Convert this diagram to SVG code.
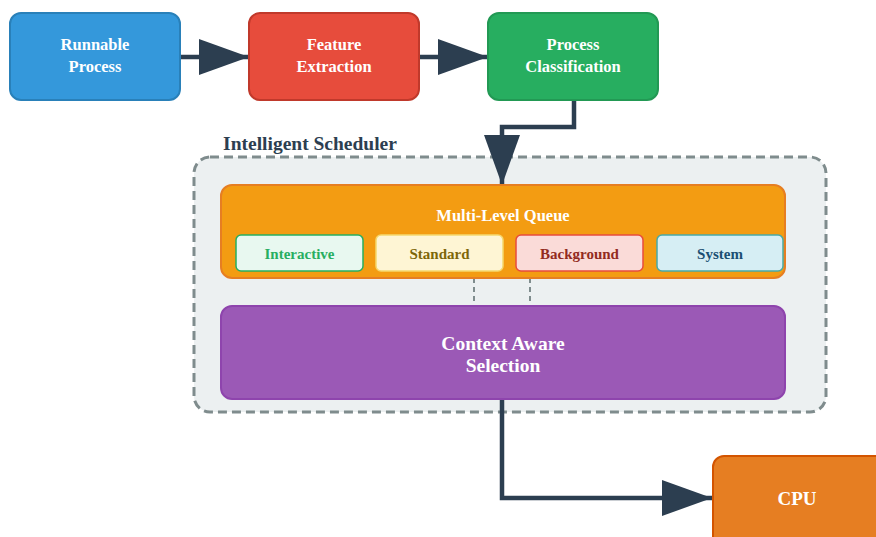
<svg xmlns="http://www.w3.org/2000/svg" width="876" height="537" viewBox="0 0 876 537">
<defs>
<style>
text{font-family:"Liberation Serif","Times New Roman",serif;font-weight:bold;text-anchor:middle}
.lbl{fill:#fff;font-size:16.5px}
.conn{fill:none;stroke:#2c3e50;stroke-width:4.5}
.sub{stroke-width:1.5}
.subt{font-size:15px}
</style>
<marker id="ah" viewBox="0 0 50 36" refX="50" refY="18" markerWidth="50" markerHeight="36" markerUnits="userSpaceOnUse" orient="auto">
<path d="M0,0 L50,18 L0,36 Z" fill="#2c3e50"/>
</marker>
</defs>
<rect width="876" height="537" fill="#fff"/>

<g id="scheduler">
<rect x="194" y="157" width="632" height="255" rx="16" fill="#ecf0f1" stroke="#7f8c8d" stroke-width="3" stroke-dasharray="9,5"/>
<text x="310" y="150" font-size="19.5" fill="#2c3e50">Intelligent Scheduler</text>
</g>

<g id="connectors">
<path class="conn" d="M180,57 L249,57" marker-end="url(#ah)"/>
<path class="conn" d="M419,57 L488,57" marker-end="url(#ah)"/>
<path class="conn" d="M574,100 L574,127 L502,127 L502,185" marker-end="url(#ah)"/>
<path class="conn" d="M502,399 L502,498 L712,498" marker-end="url(#ah)"/>
<line x1="474" y1="278" x2="474" y2="306" stroke="#7f8c8d" stroke-width="2" stroke-dasharray="5,4"/>
<line x1="530" y1="278" x2="530" y2="306" stroke="#7f8c8d" stroke-width="2" stroke-dasharray="5,4"/>
</g>

<g id="runnable">
<rect x="10" y="13" width="170" height="87" rx="11" fill="#3498db" stroke="#2980b9" stroke-width="2"/>
<text class="lbl" x="95" y="50">Runnable</text>
<text class="lbl" x="95" y="72">Process</text>
</g>
<g id="feature">
<rect x="249" y="13" width="170" height="87" rx="11" fill="#e74c3c" stroke="#c0392b" stroke-width="2"/>
<text class="lbl" x="334" y="50">Feature</text>
<text class="lbl" x="334" y="72">Extraction</text>
</g>
<g id="classification">
<rect x="488" y="13" width="170" height="87" rx="11" fill="#27ae60" stroke="#229954" stroke-width="2"/>
<text class="lbl" x="573" y="50">Process</text>
<text class="lbl" x="573" y="72">Classification</text>
</g>

<g id="queue">
<rect x="221" y="185" width="564" height="93" rx="11" fill="#f39c12" stroke="#e67e22" stroke-width="2"/>
<text x="503" y="221" font-size="16.5" fill="#fff">Multi-Level Queue</text>
</g>
<g id="interactive">
<rect class="sub" x="236" y="235" width="127" height="36" rx="5" fill="#e8f8f0" stroke="#27ae60"/>
<text class="subt" x="299.5" y="259" fill="#27ae60">Interactive</text>
</g>
<g id="standard">
<rect class="sub" x="376" y="235" width="127" height="36" rx="5" fill="#fef5d4" stroke="#f5d76e"/>
<text class="subt" x="439.5" y="259" fill="#7d6608">Standard</text>
</g>
<g id="background">
<rect class="sub" x="516" y="235" width="127" height="36" rx="5" fill="#fadbd8" stroke="#e74c3c"/>
<text class="subt" x="579.5" y="259" fill="#922b21">Background</text>
</g>
<g id="system">
<rect class="sub" x="657" y="235" width="126" height="36" rx="5" fill="#d6eef4" stroke="#48a9a6"/>
<text class="subt" x="720" y="259" fill="#1b4f72">System</text>
</g>

<g id="selection">
<rect x="221" y="306" width="564" height="93" rx="11" fill="#9b59b6" stroke="#8e44ad" stroke-width="2"/>
<text x="503" y="350" font-size="19.5" fill="#fff">Context Aware</text>
<text x="503" y="372" font-size="19.5" fill="#fff">Selection</text>
</g>

<g id="cpu">
<rect x="713" y="456" width="175" height="95" rx="11" fill="#e67e22" stroke="#d35400" stroke-width="2"/>
<text x="797" y="505" font-size="19" fill="#fff">CPU</text>
</g>
</svg>
